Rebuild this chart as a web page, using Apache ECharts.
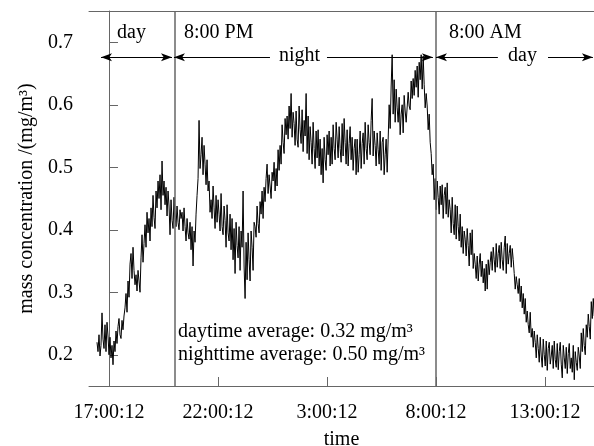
<!DOCTYPE html>
<html><head><meta charset="utf-8">
<script src="https://cdn.jsdelivr.net/npm/echarts@6/dist/echarts.min.js"></script>
<style>html,body{margin:0;padding:0;background:#fff}#c{width:594px;height:446px}</style>
</head><body><div id="c"></div>
<script>
// Sampling: hours relative to 17:00:12, one sample every ~2.75 min
const startHour = -0.55;
const stepHour = 0.0459;
// mass concentration (mg/m^3)
const concentration = [
.220,.205,.232,.198,.215,.267,.225,.210,.248,.205,
.252,.230,.200,.228,.195,.215,.184,.222,.205,.238,
.218,.245,.258,.232,.226,.255,.240,.262,.275,.298,
.268,.318,.292,.345,.362,.322,.372,.335,.312,.328,
.302,.335,.318,.300,.355,.392,.348,.378,.408,.372,
.428,.395,.418,.382,.435,.405,.455,.420,.402,.462,
.435,.478,.450,.488,.432,.510,.455,.478,.440,.468,
.422,.462,.438,.392,.448,.415,.402,.452,.420,.405,
.438,.412,.400,.432,.418,.428,.398,.435,.405,.382,
.418,.395,.385,.412,.368,.405,.342,.398,.380,.425,
.455,.482,.575,.498,.520,.548,.488,.535,.505,.472,
.512,.462,.478,.428,.448,.418,.470,.435,.402,.455,
.412,.448,.425,.398,.458,.405,.392,.438,.415,.372,
.440,.395,.382,.425,.368,.418,.352,.402,.330,.412,
.375,.355,.405,.335,.398,.372,.462,.342,.290,.380,
.320,.395,.352,.318,.398,.372,.335,.412,.405,.388,
.438,.410,.395,.445,.425,.462,.418,.468,.445,.482,
.505,.458,.488,.470,.450,.492,.478,.508,.462,.498,
.470,.528,.495,.535,.505,.568,.540,.522,.578,.552,
.582,.545,.598,.562,.618,.548,.588,.570,.535,.590,
.545,.532,.598,.560,.538,.592,.525,.575,.550,.618,
.522,.582,.512,.565,.540,.505,.572,.530,.498,.558,
.515,.560,.502,.545,.488,.530,.475,.548,.512,.495,
.552,.520,.558,.502,.548,.505,.568,.530,.512,.572,
.545,.515,.565,.530,.508,.570,.518,.578,.540,.505,
.560,.502,.538,.565,.512,.548,.495,.530,.545,.488,
.545,.492,.520,.558,.498,.538,.555,.505,.572,.530,
.512,.568,.540,.520,.575,.610,.518,.558,.535,.502,
.555,.528,.505,.558,.495,.540,.548,.488,.520,.545,
.492,.545,.600,.562,.630,.680,.585,.640,.572,.625,
.595,.572,.612,.552,.585,.600,.555,.615,.590,.572,
.575,.620,.598,.592,.638,.610,.642,.615,.655,.628,
.662,.612,.668,.640,.680,.625,.678,.632,.595,.618,
.598,.560,.585,.540,.522,.488,.505,.448,.482,.432,
.478,.452,.425,.470,.440,.472,.418,.455,.468,.425,
.475,.420,.448,.432,.395,.452,.410,.392,.440,.385,
.438,.405,.382,.425,.372,.405,.362,.398,.385,.358,
.402,.375,.342,.395,.360,.400,.338,.362,.345,.322,
.358,.318,.345,.362,.325,.350,.315,.338,.302,.345,
.305,.352,.328,.348,.365,.335,.372,.352,.332,.378,
.340,.362,.375,.338,.380,.352,.335,.372,.390,.330,
.378,.345,.362,.375,.340,.370,.352,.330,.305,.325,
.312,.298,.322,.285,.310,.275,.298,.265,.290,.252,
.270,.248,.235,.268,.228,.242,.212,.238,.220,.195,
.232,.210,.188,.228,.198,.180,.225,.200,.182,.222,
.175,.210,.220,.185,.198,.215,.178,.222,.192,.180,
.218,.176,.205,.220,.185,.163,.215,.195,.178,.212,
.170,.202,.218,.178,.195,.172,.215,.160,.205,.188,
.175,.212,.198,.178,.235,.205,.242,.215,.200,.248,
.228,.265,.245,.225,.285,.258,.290,.262
];
const xTickValues = [0, 5, 10, 15, 20];
const xTickLabels = ['17:00:12', '22:00:12', '3:00:12', '8:00:12', '13:00:12'];
const yTickValues = [0.2, 0.3, 0.4, 0.5, 0.6, 0.7];
const periodBoundaries = [2.9967, 14.9967]; // 8:00 PM, 8:00 AM
const arrowLevel = 0.676;
const arrowSegments = [ // [from, to, startSymbol, endSymbol]
  [-0.367, 2.89, 'arrow', 'arrow'],
  [2.98, 7.385, 'arrow', 'none'],
  [10.0, 14.86, 'none', 'arrow'],
  [15.0, 17.84, 'arrow', 'none'],
  [20.14, 22.2, 'none', 'arrow']
];

const seriesData = concentration.map((v, i) => [startHour + i * stepHour, v]);
const FONT = '"Liberation Serif", "DejaVu Serif", serif';
const AX = '#666';

const chart = echarts.init(document.getElementById('c'), null, {renderer: 'canvas'});
chart.setOption({
  animation: false,
  backgroundColor: '#fff',
  textStyle: {fontFamily: FONT, color: '#000'},
  grid: {left: 89, right: 0, top: 11, bottom: 60, containLabel: false, outerBoundsMode: 'none'},
  xAxis: [{
    type: 'value', min: -0.917, max: 22.25,
    name: 'time', nameLocation: 'middle', nameGap: 44,
    nameTextStyle: {fontFamily: FONT, fontSize: 20, color: '#000'},
    axisLine: {show: true, lineStyle: {color: AX, width: 1}},
    axisTick: {show: true, inside: true, length: 9, customValues: xTickValues, lineStyle: {color: AX}},
    axisLabel: {show: true, customValues: xTickValues, margin: 17, fontFamily: FONT, fontSize: 20, color: '#000',
      formatter: v => xTickLabels[xTickValues.indexOf(v)] || ''},
    splitLine: {show: false}
  }, {
    type: 'value', position: 'top', min: -0.917, max: 22.25,
    axisLine: {show: true, onZero: false, lineStyle: {color: AX, width: 1}},
    axisTick: {show: false}, axisLabel: {show: false}, splitLine: {show: false}
  }],
  yAxis: {
    type: 'value', min: 0.15, max: 0.75,
    name: 'mass concentration /(mg/m³)', nameLocation: 'middle', nameGap: 52,
    nameTextStyle: {fontFamily: FONT, fontSize: 20, color: '#000'},
    axisLine: {show: true, lineStyle: {color: AX, width: 1}},
    axisTick: {show: true, inside: true, length: 9, customValues: yTickValues, lineStyle: {color: AX}},
    axisLabel: {show: true, customValues: yTickValues, margin: 16, fontFamily: FONT, fontSize: 20, color: '#000',
      formatter: v => v.toFixed(1)},
    splitLine: {show: false}
  },
  series: [{
    type: 'line', data: seriesData, showSymbol: false, symbol: 'none', sampling: null,
    lineStyle: {color: '#000', width: 1}, silent: true, z: 3,
    markLine: {
      silent: true, animation: false, symbol: ['none', 'none'],
      label: {show: false},
      data: [
        ...periodBoundaries.map(b => ({xAxis: b, lineStyle: {color: '#666', width: 1.5, type: 'solid'}})),
        ...arrowSegments.map(s => [
          {coord: [s[0], arrowLevel], symbol: s[2], symbolSize: [6, 11], lineStyle: {color: '#000', width: 1, type: 'solid'}},
          {coord: [s[1], arrowLevel], symbol: s[3], symbolSize: [6, 11]}
        ])
      ]
    }
  }],
  graphic: [
    {type: 'text', left: 117, top: 23, style: {text: 'day', font: '20px ' + FONT, fill: '#000'}},
    {type: 'text', left: 184, top: 23, style: {text: '8:00 PM', font: '20px ' + FONT, fill: '#000'}},
    {type: 'text', left: 279, top: 46, style: {text: 'night', font: '20px ' + FONT, fill: '#000'}},
    {type: 'text', left: 449, top: 23, style: {text: '8:00 AM', font: '20px ' + FONT, fill: '#000'}},
    {type: 'text', left: 508, top: 46, style: {text: 'day', font: '20px ' + FONT, fill: '#000'}},
    {type: 'text', left: 178, top: 322, style: {text: 'daytime average: 0.32 mg/m³', font: '20px ' + FONT, fill: '#000'}},
    {type: 'text', left: 178, top: 345, style: {text: 'nighttime average: 0.50 mg/m³', font: '20px ' + FONT, fill: '#000'}}
  ]
});
</script></body></html>
